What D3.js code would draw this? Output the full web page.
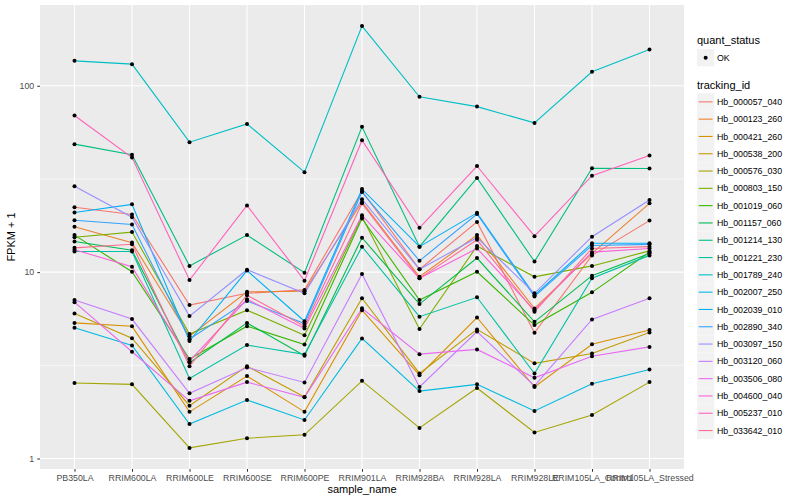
<!DOCTYPE html>
<html><head><meta charset="utf-8">
<script src="https://cdn.jsdelivr.net/npm/d3@7"></script>
<style>
html,body{margin:0;padding:0;background:#fff;}
text{font-family:"Liberation Sans",Arial,Helvetica,sans-serif;}
</style></head>
<body>
<svg id="chart" width="800" height="500"></svg>
<script>
// ---- data ----
const categories = ["PB350LA","RRIM600LA","RRIM600LE","RRIM600SE","RRIM600PE","RRIM901LA","RRIM928BA","RRIM928LA","RRIM928LE","RRIM105LA_Control","RRIM105LA_Stressed"];
const trackingIds = ["Hb_000057_040","Hb_000123_260","Hb_000421_260","Hb_000538_200","Hb_000576_030","Hb_000803_150","Hb_001019_060","Hb_001157_060","Hb_001214_130","Hb_001221_230","Hb_001789_240","Hb_002007_250","Hb_002039_010","Hb_002890_340","Hb_003097_150","Hb_003120_060","Hb_003506_080","Hb_004600_040","Hb_005237_010","Hb_033642_010"];
const hb_000057_040 = [22.3, 20.4, 6.66, 7.7, 8.03, 27.2, 10.35, 18.6, 4.73, 12.3, 18.9];
const hb_000123_260 = [17.5, 14.4, 4.53, 7.84, 7.9, 23.8, 9.44, 15.8, 6.38, 12.6, 23.4];
const hb_000421_260 = [5.34, 5.12, 1.78, 2.77, 1.78, 6.25, 2.80, 5.71, 2.42, 4.1, 4.89];
const hb_000538_200 = [6.0, 4.42, 1.92, 3.13, 2.14, 7.25, 2.86, 4.93, 3.24, 3.66, 4.75];
const hb_000576_030 = [2.54, 2.50, 1.14, 1.285, 1.34, 2.61, 1.46, 2.39, 1.38, 1.71, 2.57];
const hb_000803_150 = [15.4, 16.4, 4.65, 6.25, 4.59, 19.8, 4.95, 13.8, 9.44, 10.8, 13.0];
const hb_001019_060 = [15.8, 10.05, 3.42, 5.13, 4.09, 19.4, 7.09, 10.05, 5.2, 7.79, 12.8];
const hb_001157_060 = [14.6, 13.1, 3.27, 5.34, 3.56, 15.3, 6.74, 11.9, 5.41, 9.57, 12.6];
const hb_001214_130 = [48.6, 42.7, 10.8, 15.8, 9.93, 60.2, 13.7, 32.0, 11.4, 36.1, 36.0];
const hb_001221_230 = [12.9, 12.9, 2.69, 4.06, 3.62, 13.7, 5.77, 7.33, 2.86, 9.27, 12.3];
const hb_001789_240 = [136, 130.6, 49.8, 62.4, 34.4, 209, 87.2, 77.3, 63.2, 118.8, 156.5];
const hb_002007_250 = [5.03, 4.04, 1.53, 2.06, 1.61, 4.41, 2.30, 2.50, 1.80, 2.52, 3.0];
const hb_002039_010 = [20.9, 23.1, 4.27, 10.2, 5.45, 27.9, 13.7, 20.8, 7.52, 14.3, 14.3];
const hb_002890_340 = [19.0, 18.0, 4.37, 7.0, 5.3, 26.9, 11.5, 20.5, 7.4, 13.9, 14.1];
const hb_003097_150 = [28.9, 19.7, 5.81, 10.3, 7.7, 24.6, 10.35, 15.3, 7.7, 15.5, 24.4];
const hb_003120_060 = [7.08, 5.6, 2.24, 3.08, 2.56, 9.77, 2.42, 4.8, 2.45, 5.57, 7.24];
const hb_003506_080 = [6.9, 3.74, 2.04, 2.57, 2.13, 6.4, 3.63, 3.85, 2.71, 3.54, 3.97];
const hb_004600_040 = [13.2, 10.7, 3.33, 7.15, 4.98, 20.2, 9.26, 13.4, 6.25, 12.8, 13.4];
const hb_005237_010 = [69.2, 41.2, 9.07, 22.8, 9.0, 51, 17.3, 37.1, 15.6, 32.9, 42.2];
const hb_033642_010 = [13.5, 14.1, 3.13, 7.52, 5.13, 23.4, 9.26, 14.9, 6.13, 13.4, 13.7];
const seriesValues = [hb_000057_040,hb_000123_260,hb_000421_260,hb_000538_200,hb_000576_030,hb_000803_150,hb_001019_060,hb_001157_060,hb_001214_130,hb_001221_230,hb_001789_240,hb_002007_250,hb_002039_010,hb_002890_340,hb_003097_150,hb_003120_060,hb_003506_080,hb_004600_040,hb_005237_010,hb_033642_010];
const yTicks = [1, 10, 100];
const yMinor = [Math.sqrt(10), Math.sqrt(1000)];
const palette = ["#F8766D","#EA8331","#D89000","#C09B00","#A3A500","#7CAE00","#39B600","#00BB4E","#00BF7D","#00C1A3","#00BFC4","#00BAE0","#00B0F6","#35A2FF","#9590FF","#C77CFF","#E76BF3","#FA62DB","#FF62BC","#FF6C91"];

// ---- layout ----
const svg = d3.select("#chart");
const P = {left: 40, right: 684, top: 5, bottom: 469};

const x = d3.scalePoint().domain(categories).range([P.left, P.right]).padding(0.6);
const allVals = seriesValues.flat();
const lo = Math.log10(d3.min(allVals)), hi = Math.log10(d3.max(allVals));
const pad = (hi - lo) * 0.05;
const y = d3.scaleLog().domain([Math.pow(10, lo - pad), Math.pow(10, hi + pad)]).range([P.bottom, P.top]);
const color = d3.scaleOrdinal().domain(trackingIds).range(palette);

// panel
svg.append("rect").attr("x", P.left).attr("y", P.top).attr("width", P.right - P.left).attr("height", P.bottom - P.top).attr("fill", "#EBEBEB");
const grid = svg.append("g");
yMinor.forEach(v => grid.append("line").attr("x1", P.left).attr("x2", P.right).attr("y1", y(v)).attr("y2", y(v)).attr("stroke", "#fff").attr("stroke-width", 0.55));
yTicks.forEach(v => grid.append("line").attr("x1", P.left).attr("x2", P.right).attr("y1", y(v)).attr("y2", y(v)).attr("stroke", "#fff").attr("stroke-width", 1.1));
categories.forEach(c => grid.append("line").attr("x1", x(c)).attr("x2", x(c)).attr("y1", P.top).attr("y2", P.bottom).attr("stroke", "#fff").attr("stroke-width", 1.1));

// lines
const line = d3.line().x((d, i) => x(categories[i])).y(d => y(d));
const gl = svg.append("g");
seriesValues.forEach((vals, k) => {
  gl.append("path").attr("d", line(vals)).attr("fill", "none").attr("stroke", color(trackingIds[k])).attr("stroke-width", 1.1);
});
// points
const gp = svg.append("g");
seriesValues.forEach(vals => {
  vals.forEach((v, i) => gp.append("circle").attr("cx", x(categories[i])).attr("cy", y(v)).attr("r", 2).attr("fill", "#000"));
});

// axes
const xAxis = d3.axisBottom(x).tickSize(2.75).tickPadding(3);
const gx = svg.append("g").attr("transform", `translate(0,${P.bottom})`).call(xAxis);
gx.select(".domain").remove();
gx.selectAll(".tick line").attr("stroke", "#333");
gx.selectAll(".tick text").attr("fill", "#4D4D4D").style("font-size", "8.8px");

const yAxis = d3.axisLeft(y).tickValues(yTicks).tickFormat(d3.format("d")).tickSize(2.75).tickPadding(3);
const gy = svg.append("g").attr("transform", `translate(${P.left},0)`).call(yAxis);
gy.select(".domain").remove();
gy.selectAll(".tick line").attr("stroke", "#333");
gy.selectAll(".tick text").attr("fill", "#4D4D4D").style("font-size", "8.8px");

svg.append("text").attr("x", (P.left + P.right) / 2).attr("y", 493).attr("text-anchor", "middle").style("font-size", "11px").text("sample_name");
svg.append("text").attr("transform", `translate(15,${(P.top + P.bottom) / 2}) rotate(-90)`).attr("text-anchor", "middle").style("font-size", "11px").text("FPKM + 1");

// legend
const LX = 697, KS = 17.3;
const lg = svg.append("g");
lg.append("text").attr("x", LX).attr("y", 44).style("font-size", "11px").text("quant_status");
lg.append("rect").attr("x", LX).attr("y", 49).attr("width", KS).attr("height", KS).attr("fill", "#F2F2F2");
lg.append("circle").attr("cx", LX + KS / 2).attr("cy", 49 + KS / 2).attr("r", 2).attr("fill", "#000");
lg.append("text").attr("x", LX + 20).attr("y", 49 + KS / 2 + 3.1).style("font-size", "8.8px").text("OK");

lg.append("text").attr("x", LX).attr("y", 89).style("font-size", "11px").text("tracking_id");
trackingIds.forEach((id, i) => {
  const ky = 93.2 + i * KS;
  lg.append("rect").attr("x", LX).attr("y", ky).attr("width", KS).attr("height", KS).attr("fill", "#F2F2F2");
  lg.append("line").attr("x1", LX + 1.7).attr("x2", LX + KS - 1.7).attr("y1", ky + KS / 2).attr("y2", ky + KS / 2).attr("stroke", color(id)).attr("stroke-width", 1.1);
  lg.append("text").attr("x", LX + 20).attr("y", ky + KS / 2 + 3.1).style("font-size", "8.8px").text(id);
});
</script>
</body></html>
